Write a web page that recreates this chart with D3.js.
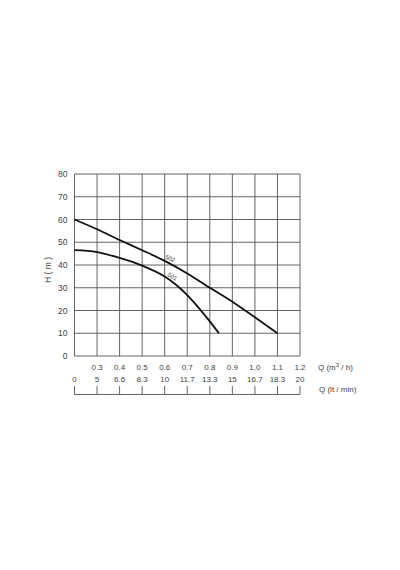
<!DOCTYPE html>
<html>
<head>
<meta charset="utf-8">
<script src="https://cdn.jsdelivr.net/npm/d3@7"></script>
<style>
  body { margin: 0; background: #fff; }
  text { font-family: "Liberation Sans", Arial, sans-serif; fill: #444; }
</style>
</head>
<body>
<div id="chart"></div>
<script>
// tick labels on the two flow axes (not evenly spaced values)
let qM3h = [0, 0.3, 0.4, 0.5, 0.6, 0.7, 0.8, 0.9, 1.0, 1.1, 1.2]
let qM3hLabels = ['', '0.3', '0.4', '0.5', '0.6', '0.7', '0.8', '0.9', '1.0', '1.1', '1.2']
let qLtMinLabels = ['0', '5', '6.6', '8.3', '10', '11.7', '13.3', '15', '16.7', '18.3', '20']
let hTicks = [0, 10, 20, 30, 40, 50, 60, 70, 80]

// pump curves, Q in m3/h, H in m
let q502 = [0, 0.3, 0.4, 0.5, 0.6, 0.7, 0.8, 0.9, 1.0, 1.1]
let h502 = [60, 55.7, 51, 46.5, 41.8, 36.3, 30, 23.9, 17, 10]
let q501 = [0, 0.3, 0.4, 0.5, 0.6, 0.65, 0.7, 0.75, 0.8, 0.84]
let h501 = [46.5, 45.7, 43.1, 39.7, 34.9, 31.3, 26.8, 21.3, 15.2, 10]

let width = 400
let height = 570
let plotLeft = 74.5, plotRight = 300, plotTop = 174, plotBottom = 356

let svg = d3.select('#chart').append('svg')
    .attr('width', width)
    .attr('height', height)

// x is piecewise: each labelled flow sits on its own grid column
let xScale = d3.scaleLinear()
    .domain(qM3h)
    .range(qM3h.map((d, i) => plotLeft + i * (plotRight - plotLeft) / (qM3h.length - 1)))
let yScale = d3.scaleLinear().domain([0, 80]).range([plotBottom, plotTop])

let grid = svg.append('g').attr('stroke', '#555').attr('stroke-width', 0.9)
grid.selectAll('.v').data(qM3h).enter().append('line')
    .attr('x1', d => xScale(d)).attr('x2', d => xScale(d))
    .attr('y1', plotTop).attr('y2', plotBottom)
grid.selectAll('.h').data(hTicks).enter().append('line')
    .attr('x1', plotLeft).attr('x2', plotRight)
    .attr('y1', d => yScale(d)).attr('y2', d => yScale(d))

// y labels
svg.append('g').selectAll('text').data(hTicks).enter().append('text')
    .attr('x', 67.5)
    .attr('y', d => yScale(d) + 3)
    .attr('text-anchor', 'end')
    .style('font-size', '8.5px')
    .text(d => d)

svg.append('text')
    .attr('transform', 'translate(51,270) rotate(-90)')
    .attr('text-anchor', 'middle')
    .style('font-size', '8.5px')
    .text('H ( m )')

// flow labels
svg.append('g').selectAll('text').data(qM3h).enter().append('text')
    .attr('x', d => xScale(d))
    .attr('y', 369.5)
    .attr('text-anchor', 'middle')
    .style('font-size', '8px')
    .text((d, i) => qM3hLabels[i])
svg.append('g').selectAll('text').data(qM3h).enter().append('text')
    .attr('x', d => xScale(d))
    .attr('y', 382)
    .attr('text-anchor', 'middle')
    .style('font-size', '8px')
    .text((d, i) => qLtMinLabels[i])

let unit1 = svg.append('text').attr('x', 318).attr('y', 369.5).style('font-size', '8px')
unit1.append('tspan').text('Q (m')
unit1.append('tspan').attr('dy', -3).style('font-size', '6px').text('3')
unit1.append('tspan').attr('dy', 3).text(' / h)')
svg.append('text').attr('x', 319).attr('y', 392).style('font-size', '8px').text('Q (lt / min)')

// lower bracket scale
let bracket = svg.append('g').attr('stroke', '#555').attr('stroke-width', 0.9)
bracket.append('line').attr('x1', plotLeft).attr('x2', plotRight).attr('y1', 394.5).attr('y2', 394.5)
bracket.selectAll('.t').data(qM3h).enter().append('line')
    .attr('x1', d => xScale(d)).attr('x2', d => xScale(d))
    .attr('y1', 386).attr('y2', 394.5)

// curves
let line = d3.line()
    .x(d => xScale(d[0]))
    .y(d => yScale(d[1]))
    .curve(d3.curveMonotoneX)

let curves = [
  { name: '502', pts: q502.map((q, i) => [q, h502[i]]), at: 0.6, dy: -2.5, angle: 23 },
  { name: '501', pts: q501.map((q, i) => [q, h501[i]]), at: 0.61, dy: -2.5, angle: 31 }
]

svg.selectAll('.curve').data(curves).enter().append('path')
    .attr('d', d => line(d.pts))
    .attr('fill', 'none')
    .attr('stroke', '#111')
    .attr('stroke-width', 1.8)

svg.selectAll('.clabel').data(curves).enter().append('text')
    .attr('transform', d => {
      let h = d3.scaleLinear().domain(d.pts.map(p => p[0])).range(d.pts.map(p => p[1]))(d.at)
      return 'translate(' + xScale(d.at) + ',' + (yScale(h) + d.dy) + ') rotate(' + d.angle + ')'
    })
    .style('font-size', '6px')
    .style('fill', '#333')
    .text(d => d.name)
</script>
</body>
</html>
